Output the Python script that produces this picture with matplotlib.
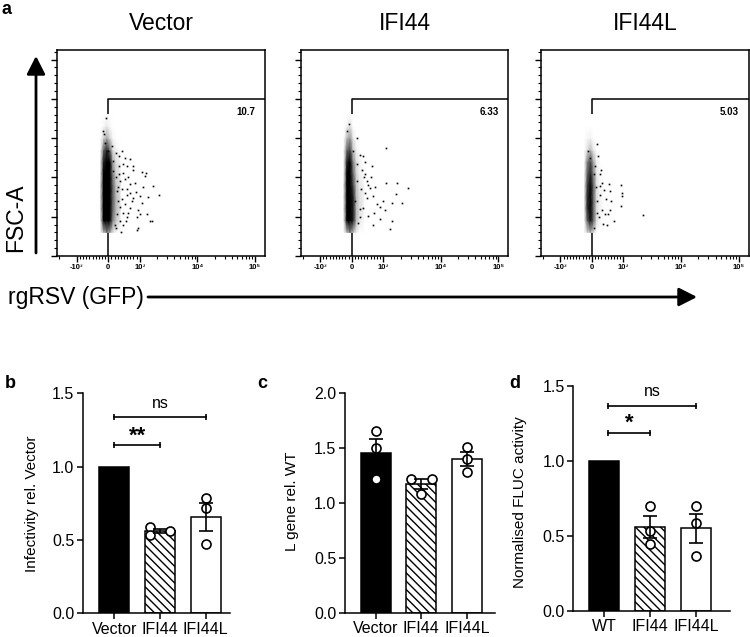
import numpy as np
import matplotlib
matplotlib.use('Agg')
import matplotlib.pyplot as plt
from matplotlib.ticker import FixedLocator, NullFormatter
from matplotlib.patches import FancyArrowPatch

plt.rcParams['font.family'] = ['Liberation Sans', 'DejaVu Sans']
plt.rcParams['hatch.linewidth'] = 1.0

W, H = 750, 637

# ---------------- panel a: flow cytometry ----------------
flow_titles = ['Vector', 'IFI44', 'IFI44L']
gate_pct = ['10.7', '6.33', '5.03']
gate_gfp_min = 0
gate_fsc_max = 200000

# density of the dense negative population, sampled at GFP / FSC (thousands) grid points
core_gfp = [-250, -150, -50, 50, 150, 250, 375]
core_fsc = [30, 45, 60, 75, 90, 105, 120, 135, 150, 165, 180]
core_vector = [
    [0.0, 0.3, 0.5, 0.4, 0.15, 0.05, 0.0],
    [0.1, 0.9, 1.0, 1.0, 0.5, 0.3, 0.15],
    [0.2, 1.0, 1.0, 1.0, 0.6, 0.35, 0.2],
    [0.2, 1.0, 1.0, 1.0, 0.6, 0.35, 0.2],
    [0.2, 1.0, 1.0, 1.0, 0.6, 0.3, 0.2],
    [0.1, 0.9, 1.0, 1.0, 0.5, 0.25, 0.15],
    [0.1, 0.8, 1.0, 0.9, 0.4, 0.2, 0.1],
    [0.0, 0.6, 0.8, 0.6, 0.2, 0.1, 0.0],
    [0.0, 0.25, 0.4, 0.25, 0.05, 0.0, 0.0],
    [0.0, 0.05, 0.15, 0.05, 0.0, 0.0, 0.0],
    [0.0, 0.0, 0.0, 0.0, 0.0, 0.0, 0.0],
]
core_ifi44 = [
    [0.0, 0.3, 0.5, 0.3, 0.1, 0.0, 0.0],
    [0.15, 0.9, 1.0, 0.8, 0.35, 0.15, 0.05],
    [0.2, 1.0, 1.0, 0.8, 0.35, 0.2, 0.1],
    [0.2, 1.0, 1.0, 0.8, 0.35, 0.2, 0.1],
    [0.2, 1.0, 1.0, 0.7, 0.3, 0.15, 0.1],
    [0.1, 0.9, 1.0, 0.6, 0.25, 0.1, 0.05],
    [0.1, 0.8, 0.9, 0.5, 0.2, 0.1, 0.0],
    [0.05, 0.6, 0.7, 0.3, 0.1, 0.0, 0.0],
    [0.0, 0.35, 0.45, 0.15, 0.0, 0.0, 0.0],
    [0.0, 0.1, 0.2, 0.0, 0.0, 0.0, 0.0],
    [0.0, 0.0, 0.0, 0.0, 0.0, 0.0, 0.0],
]
core_ifi44l = [
    [0.0, 0.2, 0.35, 0.2, 0.0, 0.0, 0.0],
    [0.0, 0.6, 0.85, 0.6, 0.2, 0.05, 0.0],
    [0.05, 0.75, 0.9, 0.6, 0.2, 0.1, 0.0],
    [0.05, 0.75, 0.9, 0.6, 0.2, 0.1, 0.0],
    [0.05, 0.7, 0.9, 0.6, 0.2, 0.05, 0.0],
    [0.0, 0.6, 0.8, 0.5, 0.15, 0.05, 0.0],
    [0.0, 0.5, 0.7, 0.4, 0.1, 0.0, 0.0],
    [0.0, 0.2, 0.35, 0.15, 0.0, 0.0, 0.0],
    [0.0, 0.05, 0.1, 0.0, 0.0, 0.0, 0.0],
    [0.0, 0.0, 0.0, 0.0, 0.0, 0.0, 0.0],
    [0.0, 0.0, 0.0, 0.0, 0.0, 0.0, 0.0],
]

# scattered events outside the dense core: (GFP, FSC in thousands)
events_vector = [
    (-73, 176), (-159, 159), (-137, 155), (-105, 144), (108, 140), (244, 131), (444, 133),
    (349, 127), (530, 125), (689, 124), (476, 117), (794, 109), (1080, 107), (1280, 106),
    (1230, 102), (371, 95), (689, 91), (848, 93), (1717, 89), (2180, 78), (1008, 76),
    (794, 74), (584, 78), (425, 85), (286, 83), (689, 61), (1080, 68), (952, 59), (1318, 53),
    (1504, 45), (1008, 53), (902, 49), (952, 36), (584, 49), (371, 45), (213, 40), (457, 55),
    (317, 70), (530, 66), (743, 70), (635, 55), (476, 40), (267, 53), (159, 108), (32, 117),
    (0, 134), (794, 114), (584, 114), (159, 121), (349, 104), (250, 100), (300, 88),
    (420, 72), (380, 62), (520, 98), (600, 85), (460, 105), (330, 115), (700, 80), (560, 45),
    (250, 35), (400, 30), (640, 100), (870, 82), (1150, 88), (1400, 75), (921, 33), (1600, 44),
]
events_ifi44 = [
    (178, 150), (1118, 138), (264, 128), (349, 127), (635, 114), (422, 104), (159, 117),
    (1118, 93), (1717, 93), (2740, 86), (1670, 79), (2100, 68), (1405, 67), (1004, 70),
    (1075, 59), (686, 76), (794, 66), (581, 87), (476, 74), (368, 61), (527, 51), (667, 39),
    (898, 47), (1313, 34), (1405, 45), (264, 49), (159, 95), (317, 110), (476, 95), (-76, 168),
    (-140, 159), (105, 70), (422, 80), (54, 134), (250, 60), (380, 100), (300, 85), (520, 90),
    (200, 42), (700, 55), (600, 100), (430, 120), (900, 62), (750, 88),
]
events_ifi44l = [
    (-140, 134), (159, 143), (190, 127), (-63, 125), (83, 114), (51, 104), (264, 104),
    (527, 92), (317, 93), (241, 89), (921, 90), (952, 80), (952, 76), (581, 83), (368, 84),
    (454, 72), (603, 70), (921, 63), (159, 70), (317, 59), (400, 53), (581, 59), (508, 53),
    (686, 45), (349, 41), (476, 40), (2180, 52), (210, 49), (63, 36), (250, 78), (150, 55),
    (300, 110), (120, 88),
]

gfp_ticks = [-1000, 0, 1000, 10000, 100000]
gfp_tick_labels = ['-10³', '0', '10³', '10⁴', '10⁵']

# ---------------- panels b-d: bar charts ----------------
b_groups = ['Vector', 'IFI44', 'IFI44L']
b_points = [[1.0, 1.0, 1.0], [0.59, 0.534, 0.561], [0.784, 0.72, 0.472]]
c_groups = ['Vector', 'IFI44', 'IFI44L']
c_points = [[1.65, 1.498, 1.217], [1.217, 1.075, 1.215], [1.507, 1.398, 1.28]]
d_groups = ['WT', 'IFI44', 'IFI44L']
d_points = [[1.0, 1.0, 1.0], [0.698, 0.531, 0.443], [0.698, 0.587, 0.365]]


def px_rect(left, top, right, bottom):
    return [left / W, 1 - bottom / H, (right - left) / W, (bottom - top) / H]


fig = plt.figure(figsize=(7.5, 6.37), dpi=100)

flow_left = [57.3, 300.7, 541.0]
cores = [core_vector, core_ifi44, core_ifi44l]
events = [events_vector, events_ifi44, events_ifi44l]
x_minor = ([-2000] + list(range(-900, 0, 100)) + list(range(100, 1000, 100))
           + [k * 10 ** e for e in (3, 4) for k in range(2, 10)])

for i in range(3):
    ax = fig.add_axes(px_rect(flow_left[i], 50, flow_left[i] + 207.7, 256))
    ax.set_xscale('symlog', linthresh=1000, linscale=0.493)
    ax.set_xlim(-2183, 150400)
    ax.set_ylim(0, 262144)
    ax.pcolormesh(core_gfp, np.array(core_fsc) * 1000, np.array(cores[i]),
                  cmap='Greys', vmin=0, vmax=0.9, shading='gouraud', zorder=2)
    ev = np.array(events[i], dtype=float)
    ax.plot(ev[:, 0], ev[:, 1] * 1000, 's', ms=1.2, color='k', mew=0, zorder=3)
    ax.plot([gate_gfp_min, gate_gfp_min, 150400], [0, gate_fsc_max, gate_fsc_max],
            color='k', lw=1.1, zorder=1)
    ax.text(1 - 10 / 207.7, (gate_fsc_max / 262144) - 13 / 206, gate_pct[i],
            transform=ax.transAxes, ha='right', va='center', fontsize=7, fontweight='bold')
    ax.xaxis.set_major_locator(FixedLocator(gfp_ticks))
    ax.set_xticklabels(gfp_tick_labels)
    ax.xaxis.set_minor_locator(FixedLocator(x_minor))
    ax.xaxis.set_minor_formatter(NullFormatter())
    ax.yaxis.set_major_locator(FixedLocator(range(0, 262144, 50000)))
    ax.yaxis.set_minor_locator(FixedLocator(range(0, 262144, 10000)))
    ax.set_yticklabels([])
    ax.tick_params(which='major', length=4, width=1, pad=1.5, labelsize=5.5)
    ax.tick_params(which='minor', length=2, width=0.8)
    for lab in ax.get_xticklabels():
        lab.set_fontweight('bold')
    for s in ax.spines.values():
        s.set_linewidth(1.1)
    fig.text((flow_left[i] + 103.8) / W, 1 - 23.5 / H, flow_titles[i],
             ha='center', va='center', fontsize=16.5)

fig.text(16 / W, 1 - 218 / H, 'FSC-A', rotation=90, ha='center', va='center', fontsize=16.5)
fig.text(8 / W, 1 - 297 / H, 'rgRSV (GFP)', ha='left', va='center', fontsize=16.5)
style = '-|>,head_length=0.55,head_width=0.28'
fig.add_artist(FancyArrowPatch((36 / W, 1 - 253 / H), (36 / W, 1 - 56 / H), arrowstyle=style,
                               mutation_scale=20, lw=2, color='k', transform=fig.transFigure,
                               shrinkA=0, shrinkB=0))
fig.add_artist(FancyArrowPatch((148 / W, 1 - 297 / H), (697 / W, 1 - 297 / H), arrowstyle=style,
                               mutation_scale=20, lw=2, color='k', transform=fig.transFigure,
                               shrinkA=0, shrinkB=0))


def bar_panel(rect, groups, points, show_pts, offsets, xlim, ylim, yticks, ylabel, label_xy):
    ax = fig.add_axes(rect)
    x = np.arange(len(groups))
    means = [np.mean(p) for p in points]
    sems = [np.std(p, ddof=1) / np.sqrt(len(p)) for p in points]
    bars = ax.bar(x, means, width=0.66, color=['black', 'white', 'white'],
                  edgecolor='black', linewidth=1.1, zorder=1)
    bars[1].set_hatch('\\\\\\\\')
    for j in range(len(groups)):
        if show_pts[j]:
            ax.plot(x[j] + np.array(offsets[j]), points[j], 'o', ms=6.5, mfc='white',
                    mec='black', mew=1.2, zorder=3)
        if sems[j] > 0:
            ax.errorbar(x[j], means[j], yerr=sems[j], fmt='none', ecolor='black',
                        elinewidth=1.2, capsize=5, capthick=1.2, zorder=4)
    ax.set_xlim(*xlim)
    ax.set_ylim(*ylim)
    ax.set_yticks(yticks)
    ax.set_yticklabels([f'{t:.1f}' for t in yticks])
    ax.set_xticks(x)
    ax.set_xticklabels(groups)
    ax.tick_params(length=4, width=1.1, labelsize=11.5, pad=2)
    for s in ['top', 'right']:
        ax.spines[s].set_visible(False)
    for s in ['left', 'bottom']:
        ax.spines[s].set_linewidth(1.1)
    ax.set_ylabel(ylabel, fontsize=11)
    ax.yaxis.set_label_coords(*label_xy)
    return ax


def bracket(ax, x1, x2, y, text, ty, fs, weight):
    ax.plot([x1, x2], [y, y], color='black', lw=1.2, marker='|', ms=5, mew=1.2)
    ax.text((x1 + x2) / 2, ty, text, ha='center', va='center', fontsize=fs, fontweight=weight)


ax_b = bar_panel(px_rect(82.7, 393.3, 230, 613.3), b_groups, b_points, [False, True, True],
                 [[0, 0, 0], [-0.22, -0.22, 0.22], [0, 0, 0]], (-0.69, 2.53), (0, 1.5),
                 [0.0, 0.5, 1.0, 1.5], 'Infectivity rel. Vector', (-0.30, 0.5))
bracket(ax_b, 0, 2, 1.336, 'ns', 1.43, 11.5, 'normal')
bracket(ax_b, 0, 1, 1.145, '**', 1.21, 16, 'bold')

ax_c = bar_panel(px_rect(344.5, 392.7, 495, 612.6), c_groups, c_points, [True, True, True],
                 [[0, 0, 0], [-0.22, 0, 0.24], [0, 0, 0]], (-0.68, 2.61), (0, 2.0),
                 [0.0, 0.5, 1.0, 1.5, 2.0], 'L gene rel. WT', (-0.30, 0.507))

ax_d = bar_panel(px_rect(573.3, 385.7, 730, 610.7), d_groups, d_points, [False, True, True],
                 [[0, 0, 0], [0, 0, 0], [0, 0, 0]], (-0.67, 2.74), (0, 1.5),
                 [0.0, 0.5, 1.0, 1.5], 'Normalised FLUC activity', (-0.295, 0.483))
bracket(ax_d, 0.09, 2, 1.367, 'ns', 1.46, 11.5, 'normal')
bracket(ax_d, 0.09, 1, 1.187, '*', 1.25, 16, 'bold')

for letter, xx, yy in [('a', 6.5, 9), ('b', 10, 383), ('c', 262, 383), ('d', 515, 383)]:
    fig.text(xx / W, 1 - yy / H, letter, ha='center', va='center', fontsize=13, fontweight='bold')

fig.savefig('out.png', dpi=100)
